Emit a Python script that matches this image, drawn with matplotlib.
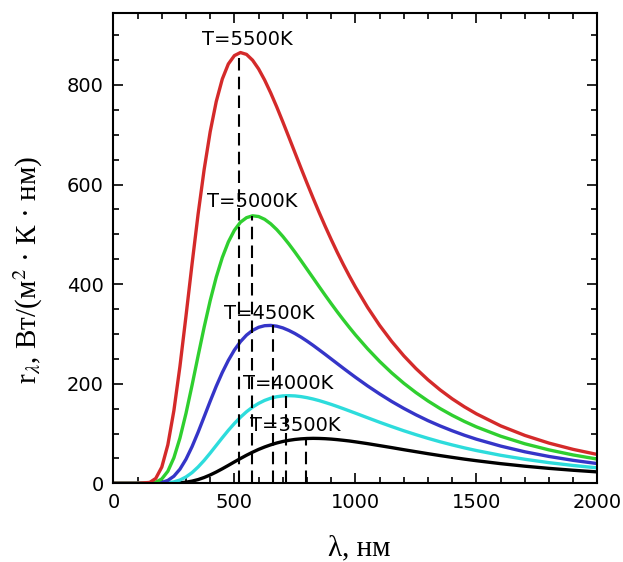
import matplotlib
matplotlib.use('Agg')
import matplotlib.pyplot as plt
from matplotlib.ticker import MultipleLocator

# wavelength, nm
wavelength = [0, 100, 150, 175, 200, 225, 250, 275, 300, 325, 350, 375, 400, 425, 450, 475,
              500, 525, 550, 575, 600, 625, 650, 675, 700, 725, 750, 775, 800, 825, 850,
              875, 900, 925, 950, 975, 1000, 1050, 1100, 1150, 1200, 1250, 1300, 1350,
              1400, 1450, 1500, 1600, 1700, 1800, 1900, 2000]

# r_lambda
r5500 = [0, 0, 1.8, 9.8, 32.6, 77.3, 146.1, 234.9, 336.0, 440.4, 540.5, 630.2, 706.1, 766.7,
         811.8, 842.1, 858.9, 865.0, 861.3, 849.7, 832.1, 809.7, 783.9, 755.7, 725.8, 695.1,
         664.1, 633.1, 602.7, 573.0, 544.0, 516.2, 489.5, 463.8, 439.4, 416.2, 394.2, 353.5,
         317.1, 284.8, 256.0, 230.5, 207.8, 187.6, 169.6, 153.7, 139.5, 115.4, 96.2, 80.7,
         68.1, 57.9]
r5000 = [0, 0, 0.3, 2.2, 8.8, 24.2, 51.3, 90.8, 140.5, 196.9, 255.9, 313.6, 367.0, 414.0,
         453.4, 484.7, 508.2, 524.3, 533.4, 537.2, 535.7, 530.1, 521.1, 509.5, 495.8, 480.6,
         464.3, 447.3, 429.9, 412.5, 395.0, 377.7, 360.8, 344.3, 328.4, 313.0, 298.1, 270.3,
         244.8, 221.7, 200.9, 182.2, 165.3, 150.1, 136.5, 124.3, 113.3, 94.6, 79.4, 67.1,
         56.9, 48.6]
r4500 = [0, 0, 0, 0.4, 1.8, 5.8, 14.3, 28.4, 48.4, 73.6, 102.6, 133.6, 164.9, 195.0,
         222.6, 246.9, 267.7, 284.5, 297.6, 307.1, 313.3, 316.5, 317.1, 315.5, 312.1, 307.0,
         300.8, 293.6, 285.6, 277.1, 268.1, 259.0, 249.7, 240.4, 231.1, 222.0, 213.0, 195.7,
         179.5, 164.3, 150.4, 137.6, 125.8, 115.2, 105.5, 96.6, 88.6, 74.8, 63.3, 53.9,
         46.1, 39.6]
r4000 = [0, 0, 0, 0, 0.2, 1.0, 2.9, 6.6, 12.8, 21.5, 32.8, 46.0, 60.7, 76.1,
         91.5, 106.4, 120.2, 132.7, 143.7, 153.0, 160.5, 166.5, 170.9, 173.9, 175.5, 176.0,
         175.5, 174.1, 172.0, 169.3, 166.1, 162.4, 158.5, 154.3, 149.9, 145.4, 140.9, 131.7,
         122.6, 113.9, 105.5, 97.7, 90.3, 83.4, 77.1, 71.2, 65.8, 56.3, 48.3, 41.5,
         35.8, 31.0]
r3500 = [0, 0, 0, 0, 0, 0.1, 0.4, 1.0, 2.3, 4.4, 7.5, 11.7, 16.8, 22.7,
         29.2, 36.0, 43.0, 49.8, 56.4, 62.5, 68.1, 73.0, 77.3, 81.0, 84.0, 86.3,
         88.1, 89.3, 90.0, 90.3, 90.1, 89.6, 88.8, 87.7, 86.4, 85.0, 83.3, 79.7,
         75.7, 71.7, 67.5, 63.5, 59.5, 55.7, 52.1, 48.6, 45.4, 39.5, 34.4, 30.0,
         26.2, 22.9]

# dashed markers at the maxima
peak_wl = [521, 573, 660, 714, 795]
peak_val = [864, 536, 317, 176, 90]

labels = ['T=5500K', 'T=5000K', 'T=4500K', 'T=4000K', 'T=3500K']
label_x = [552, 575, 645, 722, 752]
label_y = [892, 565, 341, 201, 116]

plt.rcParams['mathtext.fontset'] = 'stix'

fig = plt.figure(figsize=(6.23, 5.62), dpi=100)
ax = fig.add_axes([0.182, 0.14, 0.777, 0.8374])

series = [(r3500, 'black'), (r4000, '#2ddcdc'), (r4500, '#3535c8'),
          (r5000, '#2fcf2f'), (r5500, '#d42a2a')]
for vals, col in series:
    ax.plot(wavelength, vals, color=col, lw=2.4, solid_joinstyle='round')

ax.vlines(peak_wl, 0, peak_val, colors='black', linestyles=(0, (6, 3)), lw=1.5, zorder=3)

for txt, x, y in zip(labels, label_x, label_y):
    ax.text(x, y, txt, fontsize=14, ha='center', va='center', zorder=4)

ax.set_xlim(0, 2000)
ax.set_ylim(0, 945)
ax.xaxis.set_major_locator(MultipleLocator(500))
ax.xaxis.set_minor_locator(MultipleLocator(100))
ax.yaxis.set_major_locator(MultipleLocator(200))
ax.yaxis.set_minor_locator(MultipleLocator(50))
ax.tick_params(which='both', direction='in', top=True, right=True, labelsize=14, width=1.2)
ax.tick_params(which='major', length=7.5, pad=7)
ax.tick_params(which='minor', length=4.5)
for s in ax.spines.values():
    s.set_linewidth(1.5)

ax.set_xlabel('λ, нм', fontsize=21, family='Liberation Serif')
ax.set_ylabel('r$_{\\lambda}$, Вт/(м$^2$ · К · нм)', fontsize=21, family='Liberation Serif')
ax.xaxis.set_label_coords(0.508, -0.1375)
ax.yaxis.set_label_coords(-0.176, 0.453)
ax.xaxis.label.set_va('center')
ax.yaxis.label.set_va('center')

fig.savefig('out.png', dpi=100)
